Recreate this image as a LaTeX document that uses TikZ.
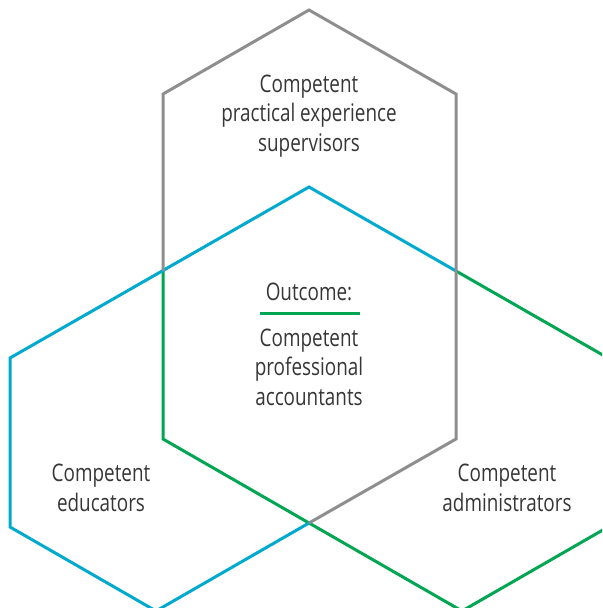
\documentclass[tikz,border=0pt]{standalone}
\usepackage{fontspec}
\setmainfont[FakeStretch=0.78]{Open Sans}
\usepackage{tikz}
\usetikzlibrary{positioning}
\definecolor{hexgray}{HTML}{8E8E90}
\definecolor{hexblue}{HTML}{00A9CE}
\definecolor{hexgreen}{HTML}{00A651}
\definecolor{txtgray}{HTML}{363636}

\begin{document}
\begin{tikzpicture}[x=0.5pt,y=-0.5pt,
  hex/.style={line width=1.5pt},
  lbl/.style={align=center,text=txtgray,inner sep=0pt,
    font=\fontsize{12.1}{14.8}\selectfont}]
\useasboundingbox (0,0) rectangle (602,608);
\clip (0,0) rectangle (602,608);

% centre
\coordinate (CT) at (309,187);
\coordinate (CL) at (163,271);
\coordinate (CR) at (456,271);
\coordinate (CLB) at (163,439);
\coordinate (CRB) at (456,439);
\coordinate (CB) at (309,523);

% gray
\coordinate (GT) at (309,10);
\coordinate (GL) at (163,94);
\coordinate (GR) at (456,94);

% blue
\coordinate (BL) at (10,358);
\coordinate (BLB) at (10,527);
\coordinate (BB) at (156,611);

% green
\coordinate (NR) at (608,358);
\coordinate (NRB) at (608,527);
\coordinate (NB) at (462,611);

\draw[hex,hexgreen] (CR) -- (NR) -- (NRB) -- (NB) -- (CLB) -- (CL);
\draw[hex,hexblue] (CR) -- (CT) -- (BL) -- (BLB) -- (BB) -- (CB);
\draw[hex,hexgray] (CL) -- (GL) -- (GT) -- (GR) -- (CRB) -- (CB);

\node[lbl] (super) at (309,116) {Competent\\practical experience\\supervisors};
\node[lbl] (outcome) at (309,292) {Outcome:};
\coordinate (ULa) at (260,313);
\coordinate (ULb) at (360,313);
\draw[hex,hexgreen] (ULa) -- (ULb);
\node[lbl] (accnt) at (309,367) {Competent\\professional\\accountants};
\node[lbl] (educ) at (101,488) {Competent\\educators};
\node[lbl] (admin) at (507,488) {Competent\\administrators};

\end{tikzpicture}
\end{document}
